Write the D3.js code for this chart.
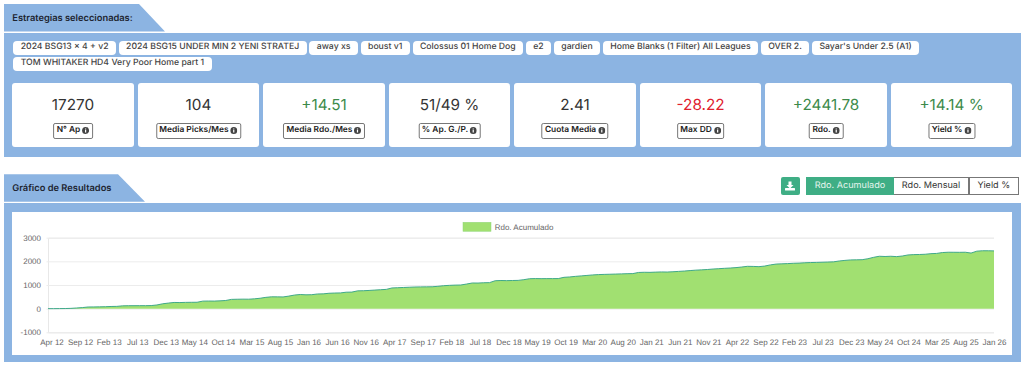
<!DOCTYPE html>
<html lang="es">
<head>
<meta charset="utf-8">
<title>Estrategias</title>
<script src="https://cdn.jsdelivr.net/npm/d3@7/dist/d3.min.js"></script>
<style>
    html, body { margin: 0; padding: 0; background: #fff; width: 1024px; height: 366px; overflow: hidden; }
    body { font-family: "Inter", "Roboto", sans-serif; color: #333; position: relative; text-rendering: geometricPrecision; }
    .tab { position: absolute; left: 4px; background: #8cb4e2; font-size: 9.3px; font-weight: 600; color: #1d2430; }
    .tab span { position: absolute; left: 8.3px; top: 50%; transform: translateY(-50%); white-space: nowrap; }
    .panel { position: absolute; left: 4px; width: 1016.7px; background: #8cb4e2; }
    .tags { position: absolute; left: 9.3px; top: 8.8px; width: 1000px; display: flex; flex-wrap: wrap; gap: 2.4px 2.8px; }
    .tag { background: #fff; border-radius: 4px; height: 13.8px; line-height: 13.8px; padding: 0 7.4px; font-size: 8.69px; font-weight: 500; color: #444; white-space: nowrap; }
    .card { position: absolute; top: 50.5px; height: 63.7px; background: #fff; border-radius: 3px; text-align: center; }
    .card .val { position: absolute; left: 0; right: 0; top: 12.3px; font-size: 15.3px; line-height: 20px; }
    .card .lab { position: absolute; left: 50%; transform: translateX(-50%); top: 40.2px; height: 13.4px; line-height: 13.4px; padding: 0 2.6px;
                 border: 1px solid #777; border-radius: 2px; font-size: 8.4px; font-weight: 600; color: #222; white-space: nowrap; display: flex; align-items: center; gap: 2px; }
    .inner { position: absolute; left: 8.3px; top: 9.6px; width: 1000px; height: 142.7px; background: #fff; }
    .btn { position: absolute; top: 176.7px; height: 18.6px; line-height: 18.6px; text-align: center; font-size: 9.1px; box-sizing: border-box; white-space: nowrap; }
    svg.chart { position: absolute; left: 0; top: 0; }
    svg.chart text { font-family: "Liberation Sans", Arial, sans-serif; }
</style>
</head>
<body>
<script>
// Strategies and summary cards
const strategies = ["2024 BSG13 x 4 + v2", "2024 BSG15 UNDER MIN 2 YENI STRATEJ", "away xs", "boust v1", "Colossus 01 Home Dog", "e2", "gardien",
    "Home Blanks (1 Filter) All Leagues", "OVER 2.", "Sayar's Under 2.5 (A1)", "TOM WHITAKER HD4 Very Poor Home part 1"];
const cardLabels = ["N° Ap", "Media Picks/Mes", "Media Rdo./Mes", "% Ap. G./P.", "Cuota Media", "Max DD", "Rdo.", "Yield %"];
const cardValues = ["17270", "104", "+14.51", "51/49 %", "2.41", "-28.22", "+2441.78", "+14.14 %"];

// Chart data: one value a month, Apr 12 to Jan 26
const tickLabels = ["Apr 12", "Sep 12", "Feb 13", "Jul 13", "Dec 13", "May 14", "Oct 14", "Mar 15", "Aug 15", "Jan 16", "Jun 16", "Nov 16",
    "Apr 17", "Sep 17", "Feb 18", "Jul 18", "Dec 18", "May 19", "Oct 19", "Mar 20", "Aug 20", "Jan 21", "Jun 21", "Nov 21",
    "Apr 22", "Sep 22", "Feb 23", "Jul 23", "Dec 23", "May 24", "Oct 24", "Mar 25", "Aug 25", "Jan 26"];
const yTicks = [-1000, 0, 1000, 2000, 3000];
const cumulative = [
    0, 1, 3, 5, 12, 28, 45, 70, 72, 76,
    82, 92, 96, 118, 124, 125, 126, 126, 130, 155,
    205, 235, 262, 258, 265, 268, 270, 318, 322, 320,
    330, 345, 392, 398, 402, 400, 415, 440, 478, 500,
    498, 495, 530, 575, 598, 585, 590, 620, 625, 650,
    660, 665, 695, 700, 752, 758, 770, 785, 800, 815,
    875, 885, 895, 905, 915, 920, 922, 925, 945, 970,
    985, 995, 1000, 1040, 1085, 1082, 1095, 1100, 1180, 1190,
    1185, 1190, 1195, 1225, 1265, 1272, 1268, 1270, 1270, 1272,
    1325, 1340, 1365, 1385, 1405, 1425, 1440, 1448, 1455, 1462,
    1470, 1478, 1482, 1530, 1538, 1535, 1545, 1552, 1548, 1560,
    1575, 1590, 1610, 1628, 1640, 1655, 1675, 1690, 1705, 1718,
    1735, 1760, 1790, 1785, 1776, 1800, 1850, 1885, 1895, 1905,
    1918, 1925, 1940, 1950, 1955, 1962, 1970, 1978, 2015, 2040,
    2060, 2065, 2070, 2110, 2170, 2215, 2205, 2215, 2200, 2225,
    2270, 2285, 2290, 2300, 2325, 2335, 2372, 2385, 2384, 2382,
    2385, 2350, 2430, 2448, 2447, 2441.78
];
const buttons = ["Rdo. Acumulado", "Rdo. Mensual", "Yield %"];

const body = d3.select("body");

const addTab = function (top, height, width, slant, title) {
    body.append("div").attr("class", "tab")
        .style("top", top + "px")
        .style("width", width + "px")
        .style("height", height + "px")
        .style("clip-path", `polygon(0 0, ${width - slant}px 0, ${width}px 100%, 0 100%)`)
        .append("span").text(title);
};

const infoIcon = function (el) {
    const s = el.append("svg").attr("width", 7).attr("height", 7).attr("viewBox", "0 0 14 14");
    s.append("circle").attr("cx", 7).attr("cy", 7).attr("r", 7).attr("fill", "#444");
    s.append("rect").attr("x", 5.8).attr("y", 6).attr("width", 2.4).attr("height", 5).attr("fill", "#fff");
    s.append("rect").attr("x", 5.8).attr("y", 3).attr("width", 2.4).attr("height", 2).attr("fill", "#fff");
};

// First section: strategies and cards
addTab(4, 27.5, 161, 26, "Estrategias seleccionadas:");
const panel1 = body.append("div").attr("class", "panel").style("top", "32.5px").style("height", "124.2px");
panel1.append("div").attr("class", "tags")
    .selectAll("div").data(strategies).join("div")
    .attr("class", "tag").text(d => d);

const cardScale = d3.scaleBand().domain(cardLabels).range([8.3, 1008.3]).paddingInner(0.033);
const valueColor = d => d.startsWith("+") ? "#3c8a4a" : d.startsWith("-") ? "#e0202e" : "#333";
const cards = panel1.selectAll(".card").data(cardLabels).join("div")
    .attr("class", "card")
    .style("left", d => cardScale(d) + "px")
    .style("width", cardScale.bandwidth() + "px");
cards.append("div").attr("class", "val")
    .style("color", (d, i) => valueColor(cardValues[i]))
    .text((d, i) => cardValues[i]);
cards.append("div").attr("class", "lab")
    .text(d => d)
    .call(infoIcon);

// Second section: chart header and buttons
addTab(174.3, 27.4, 141, 27, "Gráfico de Resultados");
const dl = body.append("div").attr("class", "btn")
    .style("left", "780.7px").style("width", "19.3px")
    .style("background", "#3fae85").style("border-radius", "2px");
const dlIcon = dl.append("svg").attr("width", 10).attr("height", 10).attr("viewBox", "0 0 20 20")
    .style("position", "absolute").style("left", "4.6px").style("top", "4.3px");
dlIcon.append("path").attr("d", "M7 1h6v7h4l-7 7-7-7h4z").attr("fill", "#fff");
dlIcon.append("rect").attr("x", 0).attr("y", 14).attr("width", 20).attr("height", 5).attr("rx", 1).attr("fill", "#fff");

const btnX = d3.scaleOrdinal().domain(buttons).range([806, 894, 969]);
const btnW = d3.scaleOrdinal().domain(buttons).range([88, 75, 49.7]);
body.selectAll(".seg").data(buttons).join("div")
    .attr("class", "btn seg")
    .style("left", d => btnX(d) + "px")
    .style("width", d => btnW(d) + "px")
    .style("background", (d, i) => i == 0 ? "#3fae85" : "#fff")
    .style("color", (d, i) => i == 0 ? "#e6f5ee" : "#333")
    .style("border", (d, i) => i == 0 ? "1px solid #3fae85" : "1px solid #777")
    .style("border-left", (d, i) => i == 2 ? "1px solid #777" : i == 1 ? "none" : "1px solid #3fae85")
    .style("line-height", "16.6px")
    .text(d => d);

const panel2 = body.append("div").attr("class", "panel").style("top", "202.7px").style("height", "159px");
panel2.append("div").attr("class", "inner");

// Chart
const svg = body.append("svg").attr("class", "chart").attr("width", 1024).attr("height", 366);

const xscale = d3.scaleLinear().domain([0, cumulative.length - 1]).range([48, 994]);
const yscale = d3.scaleLinear().domain([-1000, 3000]).range([332.3, 237.7]);
const labelScale = d3.scalePoint().domain(tickLabels).range([51.5, 994]);

const gy = svg.append("g").attr("transform", "translate(48,0)")
    .call(d3.axisLeft(yscale).tickValues(yTicks).tickFormat(d => String(d)).tickSize(-946).tickPadding(7));
gy.select(".domain").attr("stroke", "#e8e8e8");
gy.selectAll(".tick line").attr("stroke", "#ececec").attr("x1", -1.5);
gy.selectAll("text").attr("fill", "#666").style("font-size", "8px");

const gx = svg.append("g").attr("transform", "translate(0,332.3)")
    .call(d3.axisBottom(labelScale).tickSize(0).tickPadding(7));
gx.select(".domain").remove();
gx.selectAll("text").attr("fill", "#666").style("font-size", "8px");

const area = d3.area().x((d, i) => xscale(i)).y0(yscale(0)).y1(d => yscale(d));
const line = d3.line().x((d, i) => xscale(i)).y(d => yscale(d));
svg.append("path").datum(cumulative).attr("d", area).attr("fill", "#a1e071");
svg.append("path").datum(cumulative).attr("d", line).attr("fill", "none").attr("stroke", "#3fa98a").attr("stroke-width", 1);

// Legend
svg.append("rect").attr("x", 463).attr("y", 222.3).attr("width", 28).attr("height", 9)
    .attr("fill", "#a1e071").attr("stroke", "#8fd67a").attr("stroke-width", 0.5);
svg.append("text").attr("x", 494.7).attr("y", 229.8).attr("fill", "#666").style("font-size", "8px").text("Rdo. Acumulado");
</script>
</body>
</html>
